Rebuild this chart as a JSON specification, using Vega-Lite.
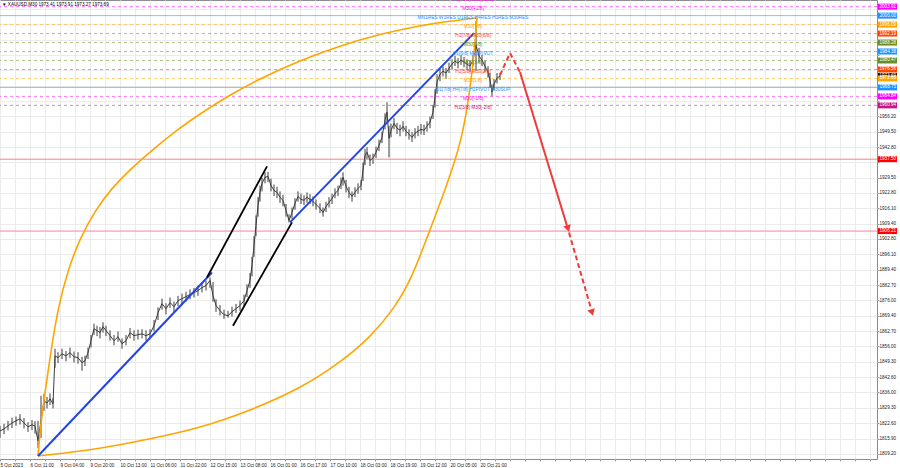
{
  "$schema": "https://vega.github.io/schema/vega-lite/v6.json",
  "width": 877,
  "height": 459,
  "autosize": {"type": "none"},
  "padding": {"left": 0, "top": 0, "right": 23, "bottom": 9},
  "background": "white",
  "config": {
    "font": "Liberation Sans",
    "view": {"stroke": "#8c8c8c"},
    "axis": {"titleFontSize": 0}
  },
  "datasets": {
    "px": [
      {"i":0,"c":1819.2,"h":1821.4,"l":1816.2},{"i":4,"c":1820.1,"h":1822.3,"l":1817.8},{"i":8,"c":1821.4,"h":1823.6,"l":1819.5},{"i":12,"c":1822.7,"h":1825.0,"l":1820.5},{"i":16,"c":1823.6,"h":1825.5,"l":1821.5},{"i":20,"c":1824.5,"h":1826.5,"l":1822.0},{"i":24,"c":1822.7,"h":1824.8,"l":1820.3},{"i":28,"c":1821.0,"h":1823.0,"l":1818.8},{"i":32,"c":1821.9,"h":1824.0,"l":1819.6},{"i":35,"c":1821.4,"h":1823.5,"l":1818.0},
      {"i":38,"c":1814.9,"h":1823.6,"l":1811.8},{"i":41,"c":1823.6,"h":1834.5,"l":1816.2},{"i":44,"c":1832.3,"h":1835.4,"l":1828.0},{"i":47,"c":1831.4,"h":1834.0,"l":1829.0},{"i":50,"c":1833.2,"h":1835.5,"l":1830.5},{"i":53,"c":1831.0,"h":1833.5,"l":1829.0},
      {"i":55,"c":1851.9,"h":1855.0,"l":1846.7},{"i":58,"c":1851.1,"h":1853.5,"l":1848.8},{"i":62,"c":1852.8,"h":1855.0,"l":1850.5},{"i":66,"c":1851.9,"h":1854.0,"l":1849.5},{"i":70,"c":1853.3,"h":1855.5,"l":1851.0},{"i":74,"c":1851.5,"h":1853.8,"l":1849.0},{"i":78,"c":1851.1,"h":1853.5,"l":1848.5},{"i":82,"c":1848.9,"h":1851.5,"l":1845.4},{"i":85,"c":1849.8,"h":1852.0,"l":1847.5},{"i":88,"c":1853.3,"h":1855.5,"l":1850.5},
      {"i":91,"c":1858.5,"h":1861.0,"l":1855.5},{"i":94,"c":1863.7,"h":1865.9,"l":1861.0},{"i":97,"c":1862.9,"h":1865.0,"l":1860.5},{"i":100,"c":1862.0,"h":1864.5,"l":1859.5},{"i":103,"c":1864.6,"h":1866.5,"l":1862.0},{"i":106,"c":1862.9,"h":1865.0,"l":1860.5},{"i":110,"c":1860.7,"h":1863.0,"l":1858.5},{"i":114,"c":1858.5,"h":1861.0,"l":1856.5},{"i":118,"c":1860.2,"h":1862.5,"l":1858.0},{"i":122,"c":1857.2,"h":1859.5,"l":1855.0},
      {"i":126,"c":1858.5,"h":1861.0,"l":1856.5},{"i":130,"c":1862.0,"h":1864.0,"l":1859.5},{"i":134,"c":1860.7,"h":1863.0,"l":1858.5},{"i":138,"c":1861.1,"h":1863.3,"l":1859.0},{"i":142,"c":1861.5,"h":1863.5,"l":1859.5},{"i":146,"c":1860.7,"h":1863.0,"l":1858.5},{"i":150,"c":1861.5,"h":1863.5,"l":1859.5},{"i":154,"c":1865.0,"h":1867.5,"l":1862.5},{"i":158,"c":1870.7,"h":1873.0,"l":1867.5},{"i":162,"c":1874.6,"h":1876.8,"l":1872.0},
      {"i":166,"c":1872.4,"h":1874.8,"l":1870.0},{"i":170,"c":1875.1,"h":1877.3,"l":1872.8},{"i":174,"c":1873.3,"h":1875.5,"l":1871.0},{"i":178,"c":1875.9,"h":1878.0,"l":1873.5},{"i":182,"c":1876.8,"h":1879.0,"l":1874.5},{"i":186,"c":1877.7,"h":1879.8,"l":1875.5},{"i":190,"c":1878.6,"h":1880.8,"l":1876.5},{"i":194,"c":1879.4,"h":1881.5,"l":1877.3},{"i":198,"c":1880.3,"h":1882.5,"l":1878.0},{"i":202,"c":1881.6,"h":1883.8,"l":1879.5},
      {"i":206,"c":1882.5,"h":1884.7,"l":1880.3},{"i":210,"c":1884.7,"h":1886.0,"l":1881.5},{"i":213,"c":1878.1,"h":1884.0,"l":1875.5},{"i":216,"c":1873.8,"h":1876.5,"l":1871.0},{"i":220,"c":1871.6,"h":1874.0,"l":1869.5},{"i":224,"c":1869.8,"h":1872.0,"l":1868.0},{"i":228,"c":1869.4,"h":1871.5,"l":1868.5},{"i":232,"c":1871.1,"h":1873.3,"l":1869.0},{"i":236,"c":1872.4,"h":1874.5,"l":1870.5},{"i":240,"c":1873.8,"h":1876.0,"l":1871.5},
      {"i":244,"c":1875.9,"h":1878.5,"l":1873.5},{"i":247,"c":1880.3,"h":1883.0,"l":1877.5},{"i":250,"c":1884.7,"h":1888.0,"l":1881.5},{"i":252,"c":1891.2,"h":1895.0,"l":1886.5},{"i":254,"c":1899.9,"h":1904.0,"l":1895.0},{"i":256,"c":1908.7,"h":1913.0,"l":1904.0},{"i":258,"c":1917.4,"h":1921.0,"l":1912.5},{"i":260,"c":1923.1,"h":1926.0,"l":1919.0},{"i":262,"c":1927.0,"h":1929.5,"l":1923.5},{"i":265,"c":1929.6,"h":1931.8,"l":1927.0},
      {"i":268,"c":1930.0,"h":1932.0,"l":1927.5},{"i":271,"c":1926.1,"h":1929.0,"l":1923.5},{"i":274,"c":1923.9,"h":1926.5,"l":1921.5},{"i":277,"c":1923.1,"h":1925.5,"l":1920.5},{"i":280,"c":1920.9,"h":1923.5,"l":1918.5},{"i":283,"c":1919.6,"h":1922.0,"l":1917.0},{"i":286,"c":1915.2,"h":1918.0,"l":1912.5},{"i":289,"c":1910.8,"h":1913.5,"l":1910.0},{"i":292,"c":1914.3,"h":1916.5,"l":1911.5},{"i":295,"c":1918.3,"h":1920.5,"l":1915.5},
      {"i":298,"c":1921.3,"h":1923.5,"l":1919.0},{"i":301,"c":1920.0,"h":1922.5,"l":1918.0},{"i":304,"c":1919.6,"h":1921.8,"l":1917.5},{"i":307,"c":1920.9,"h":1923.0,"l":1918.5},{"i":310,"c":1920.0,"h":1922.3,"l":1918.0},{"i":313,"c":1919.1,"h":1921.3,"l":1917.0},{"i":316,"c":1917.8,"h":1920.0,"l":1915.5},{"i":320,"c":1916.1,"h":1918.3,"l":1914.0},{"i":323,"c":1914.3,"h":1916.5,"l":1912.5},{"i":326,"c":1916.9,"h":1919.0,"l":1914.5},
      {"i":329,"c":1918.7,"h":1921.0,"l":1916.5},{"i":332,"c":1920.4,"h":1922.5,"l":1918.0},{"i":335,"c":1922.6,"h":1924.8,"l":1920.5},{"i":338,"c":1923.9,"h":1926.0,"l":1921.5},{"i":341,"c":1927.0,"h":1929.5,"l":1924.5},{"i":343,"c":1929.6,"h":1931.8,"l":1926.0},{"i":346,"c":1925.7,"h":1928.5,"l":1923.0},{"i":349,"c":1923.1,"h":1925.5,"l":1920.5},{"i":352,"c":1921.3,"h":1923.5,"l":1919.0},{"i":355,"c":1923.1,"h":1925.3,"l":1921.0},
      {"i":358,"c":1924.8,"h":1927.0,"l":1922.5},{"i":361,"c":1926.1,"h":1928.3,"l":1924.0},{"i":363,"c":1932.6,"h":1936.0,"l":1928.0},{"i":365,"c":1939.2,"h":1942.0,"l":1935.0},{"i":367,"c":1940.5,"h":1942.7,"l":1937.5},{"i":370,"c":1937.0,"h":1939.5,"l":1934.5},{"i":373,"c":1937.9,"h":1940.0,"l":1935.5},{"i":376,"c":1940.5,"h":1943.0,"l":1938.0},{"i":379,"c":1943.5,"h":1946.0,"l":1941.0},{"i":382,"c":1947.0,"h":1949.5,"l":1944.5},
      {"i":385,"c":1954.5,"h":1957.5,"l":1950.5},{"i":387,"c":1958.0,"h":1962.3,"l":1953.5},{"i":389,"c":1946.6,"h":1952.0,"l":1938.3},{"i":391,"c":1950.1,"h":1953.0,"l":1947.0},{"i":394,"c":1953.1,"h":1955.5,"l":1950.5},{"i":397,"c":1951.0,"h":1953.3,"l":1948.5},{"i":400,"c":1950.1,"h":1952.5,"l":1947.5},{"i":403,"c":1951.8,"h":1954.0,"l":1949.5},{"i":406,"c":1949.7,"h":1952.0,"l":1947.5},{"i":409,"c":1948.4,"h":1950.5,"l":1946.0},
      {"i":412,"c":1947.0,"h":1949.3,"l":1945.0},{"i":415,"c":1948.8,"h":1951.0,"l":1946.5},{"i":418,"c":1949.7,"h":1952.0,"l":1947.5},{"i":421,"c":1950.5,"h":1952.8,"l":1948.3},{"i":424,"c":1950.1,"h":1952.5,"l":1948.0},{"i":427,"c":1951.8,"h":1954.0,"l":1949.5},{"i":430,"c":1953.6,"h":1956.0,"l":1951.0},{"i":433,"c":1958.0,"h":1961.0,"l":1955.0},{"i":435,"c":1964.5,"h":1968.0,"l":1960.0},{"i":437,"c":1971.0,"h":1974.5,"l":1966.0},
      {"i":440,"c":1974.5,"h":1977.0,"l":1971.5},{"i":443,"c":1975.8,"h":1978.0,"l":1973.5},{"i":446,"c":1975.0,"h":1977.3,"l":1972.5},{"i":449,"c":1977.1,"h":1979.5,"l":1975.0},{"i":452,"c":1978.9,"h":1981.0,"l":1976.5},{"i":455,"c":1980.2,"h":1982.5,"l":1978.0},{"i":458,"c":1979.3,"h":1981.5,"l":1977.0},{"i":461,"c":1980.6,"h":1982.8,"l":1978.5},{"i":464,"c":1979.8,"h":1982.0,"l":1977.5},{"i":467,"c":1978.9,"h":1981.0,"l":1976.5},
      {"i":470,"c":1978.0,"h":1980.5,"l":1975.5},{"i":473,"c":1980.6,"h":1983.0,"l":1978.0},{"i":476,"c":1987.2,"h":1997.5,"l":1976.0},{"i":479,"c":1982.4,"h":1986.0,"l":1979.5},{"i":482,"c":1980.6,"h":1983.0,"l":1978.0},{"i":485,"c":1978.0,"h":1980.5,"l":1975.5},{"i":488,"c":1975.4,"h":1978.0,"l":1973.0},{"i":490,"c":1971.9,"h":1975.0,"l":1968.5},{"i":492,"c":1966.7,"h":1970.0,"l":1964.9},{"i":494,"c":1970.2,"h":1972.5,"l":1967.5},
      {"i":497,"c":1972.8,"h":1975.0,"l":1970.5},{"i":500,"c":1973.7,"h":1975.0,"l":1972.0}
    ],
    "lv": [
      {"p":2003.91,"m":"+1/8","k":"mm"},{"p":2000.00,"m":"8/8","k":"res"},{"p":1996.09,"m":"7/8","k":"mm"},{"p":1992.19,"m":"6/8","k":"mm"},{"p":1988.28,"m":"5/8","k":"mm"},{"p":1984.38,"m":"4/8","k":"mm"},{"p":1980.47,"m":"3/8","k":"mm"},{"p":1976.56,"m":"2/8","k":"mm"},{"p":1972.66,"m":"1/8","k":"mm"},{"p":1968.75,"m":"0/8","k":"res"},{"p":1964.84,"m":"-1/8","k":"mm"},{"p":1960.94,"m":"-2/8","k":"mm"}
    ],
    "sr": [{"p":1937.50,"n":"R"},{"p":1906.21,"n":"S"}],
    "arc": [
      {"x":38,"y":1808.3,"a":"upper"},{"x":41,"y":1823.6,"a":"upper"},{"x":46,"y":1838.9,"a":"upper"},{"x":52,"y":1857.0,"a":"upper"},{"x":58,"y":1872.5,"a":"upper"},{"x":68,"y":1889.5,"a":"upper"},{"x":80,"y":1903.0,"a":"upper"},{"x":95,"y":1915.2,"a":"upper"},{"x":112,"y":1925.0,"a":"upper"},{"x":130,"y":1933.0,"a":"upper"},{"x":152,"y":1941.4,"a":"upper"},{"x":175,"y":1949.6,"a":"upper"},{"x":200,"y":1957.3,"a":"upper"},{"x":230,"y":1965.5,"a":"upper"},{"x":260,"y":1972.6,"a":"upper"},{"x":300,"y":1980.5,"a":"upper"},{"x":340,"y":1986.9,"a":"upper"},{"x":380,"y":1992.0,"a":"upper"},{"x":420,"y":1995.7,"a":"upper"},{"x":450,"y":1997.6,"a":"upper"},{"x":477,"y":1999.0,"a":"upper"},
      {"x":38,"y":1808.3,"a":"lower"},{"x":100,"y":1811.4,"a":"lower"},{"x":150,"y":1815.7,"a":"lower"},{"x":200,"y":1820.5,"a":"lower"},{"x":250,"y":1828.0,"a":"lower"},{"x":300,"y":1837.6,"a":"lower"},{"x":340,"y":1848.9,"a":"lower"},{"x":370,"y":1859.8,"a":"lower"},{"x":395,"y":1872.9,"a":"lower"},{"x":412,"y":1886.0,"a":"lower"},{"x":427,"y":1903.4,"a":"lower"},{"x":445,"y":1923.9,"a":"lower"},{"x":462,"y":1945.7,"a":"lower"},{"x":470,"y":1967.5,"a":"lower"},{"x":475,"y":1987.2,"a":"lower"},{"x":477,"y":1999.0,"a":"lower"}
    ],
    "tr": [
      {"x":38,"y":1808.3,"x2":212,"y2":1888.2,"k":"up"},
      {"x":290,"y":1910.0,"x2":474,"y2":1992.4,"k":"up"},
      {"x":207,"y":1886.0,"x2":267,"y2":1934.4,"k":"ch"},
      {"x":233,"y":1865.0,"x2":292,"y2":1910.0,"k":"ch"}
    ],
    "ar": [
      {"x":500,"y":1974.1,"x2":510,"y2":1983.7,"s":"dash"},
      {"x":510,"y":1983.7,"x2":520,"y2":1975.4,"s":"dash"},
      {"x":520,"y":1975.4,"x2":567,"y2":1908.5,"s":"solid"},
      {"x":569,"y":1905.6,"x2":591,"y2":1872.5,"s":"dash"}
    ],
    "ah": [{"x":568,"y":1907.3},{"x":592,"y":1870.7}],
    "ml": [
      {"p":2007.81,"m":"+2/8","t":"H1[+1/8] M30[+2/8]"},
      {"p":2003.91,"m":"+1/8","t":"M30[+1/8]"},
      {"p":2000.00,"m":"8/8","t":"MN1RES W1RES D1RES H4RES H1RES M30RES"},
      {"p":1996.09,"m":"7/8","t":"M30[7/8]"},
      {"p":1992.19,"m":"6/8","t":"H1[7/8] M30[6/8]"},
      {"p":1988.28,"m":"5/8","t":"M30[5/8]"},
      {"p":1984.38,"m":"4/8","t":"H1[6/8] M30PIVOT"},
      {"p":1980.47,"m":"3/8","t":"M30[3/8]"},
      {"p":1976.56,"m":"2/8","t":"H1[5/8] M30[2/8]"},
      {"p":1972.66,"m":"1/8","t":"M30[1/8]"},
      {"p":1968.75,"m":"0/8","t":"D1[7/8] H4[7/8] H1PIVOT M30SUP"},
      {"p":1964.84,"m":"-1/8","t":"M30[-1/8]"},
      {"p":1960.94,"m":"-2/8","t":"H1[3/8] M30[-2/8]"}
    ],
    "rb": [
      {"p":2003.91,"m":"+1/8"},{"p":2000.00,"m":"8/8"},{"p":1996.09,"m":"7/8"},{"p":1992.19,"m":"6/8"},{"p":1988.28,"m":"5/8"},{"p":1984.38,"m":"4/8"},{"p":1980.47,"m":"3/8"},{"p":1976.56,"m":"2/8"},{"p":1973.69,"m":"px"},{"p":1972.66,"m":"1/8"},{"p":1968.75,"m":"0/8"},{"p":1964.84,"m":"-1/8"},{"p":1960.94,"m":"-2/8"},{"p":1937.50,"m":"R"},{"p":1906.21,"m":"S"}
    ]
  },
  "layer": [
    {
      "data": {"name": "px"},
      "mark": {"type": "rule", "color": "#3c3c3c", "strokeWidth": 1},
      "encoding": {
        "x": {"field": "i", "type": "quantitative", "title": null,
          "scale": {"domain": [0, 877], "nice": false, "zero": false},
          "axis": {
            "values": [0,15,30,45,60,75,90,105,120,135,150,165,180,195,210,225,240,255,270,285,300,315,330,345,360,375,390,405,420,435,450,465,480,495,510,525,540,555,570,585,600,615,630,645,660,675,690,705,720,735,750,765,780,795,810,825,840,855,870],
            "tickCount": 200,
            "labelExpr": "datum.value % 30 == 0 && datum.value <= 480 ? ['5 Oct 2023','6 Oct 11:00','9 Oct 04:00','9 Oct 20:00','10 Oct 13:00','11 Oct 06:00','11 Oct 22:00','12 Oct 15:00','13 Oct 08:00','16 Oct 01:00','16 Oct 17:00','17 Oct 10:00','18 Oct 03:00','18 Oct 19:00','19 Oct 12:00','20 Oct 05:00','20 Oct 21:00'][datum.value / 30] : ''",
            "labelAlign": "left", "labelFontSize": 4.6, "labelPadding": 1, "labelColor": "#222",
            "labelOverlap": false, "labelFlush": false, "tickSize": 2, "tickColor": "#999",
            "domain": false, "grid": true, "gridColor": "#ebebeb", "title": null
          }
        },
        "y": {"field": "l", "type": "quantitative", "title": null,
          "scale": {"domain": [1807.0, 2006.8], "nice": false, "zero": false},
          "axis": {
            "orient": "right",
            "values": [1809.2,1815.9,1822.6,1829.3,1836.0,1842.6,1849.3,1856.0,1862.7,1869.4,1876.0,1882.7,1889.4,1896.1,1902.8,1909.4,1916.1,1922.8,1929.5,1936.1,1942.8,1949.5,1956.2,1962.9,1969.5,1976.2,1982.9,1989.6,1996.2,2002.9],
            "tickCount": 200,
            "labelExpr": "datum.value > 1957 || (datum.value > 1935 && datum.value < 1937) ? '' : format(datum.value, '.2f')",
            "labelAlign": "left", "labelBaseline": "middle", "labelFontSize": 4.6, "labelPadding": 0,
            "labelColor": "#222", "labelOverlap": false, "labelFlush": false, "tickSize": 2, "tickColor": "#999",
            "domain": false, "grid": true, "gridColor": "#ebebeb", "title": null
          }
        },
        "y2": {"field": "h"}
      }
    },
    {
      "data": {"name": "lv"},
      "mark": {"type": "rule", "strokeWidth": 1, "opacity": 0.55},
      "encoding": {
        "y": {"field": "p", "type": "quantitative", "title": null},
        "color": {"field": "m", "type": "nominal", "legend": null,
          "scale": {"domain": ["+2/8","+1/8","8/8","7/8","6/8","5/8","4/8","3/8","2/8","1/8","0/8","-1/8","-2/8","R","S","px"],
                    "range": ["#FF00FF","#FF00FF","#1E90FF","#FFA500","#FF4500","#6B8E23","#1E90FF","#6B8E23","#FF4500","#FFA500","#1E90FF","#FF00FF","#C71585","#FF0000","#FF0000","#000000"]}},
        "strokeDash": {"field": "k", "type": "nominal", "legend": null,
          "scale": {"domain": ["res","mm","solid","dash"], "range": [[1,0],[3,3],[1,0],[5,3]]}}
      }
    },
    {
      "data": {"name": "sr"},
      "transform": [{"filter": "datum.n == 'R'"}],
      "mark": {"type": "rule", "color": "#FF8080", "strokeWidth": 1},
      "encoding": {"y": {"field": "p", "type": "quantitative", "title": null}}
    },
    {
      "data": {"name": "sr"},
      "transform": [{"filter": "datum.n == 'S'"}],
      "mark": {"type": "rule", "color": "#FF7FA8", "strokeWidth": 1},
      "encoding": {"y": {"field": "p", "type": "quantitative", "title": null}}
    },
    {
      "data": {"name": "px"},
      "mark": {"type": "line", "color": "#3c3c3c", "strokeWidth": 1},
      "encoding": {
        "x": {"field": "i", "type": "quantitative", "title": null},
        "y": {"field": "c", "type": "quantitative", "title": null}
      }
    },
    {
      "data": {"name": "arc"},
      "mark": {"type": "line", "color": "#FFA500", "strokeWidth": 1.6, "interpolate": "basis"},
      "encoding": {
        "x": {"field": "x", "type": "quantitative", "title": null},
        "y": {"field": "y", "type": "quantitative", "title": null},
        "detail": {"field": "a"}
      }
    },
    {
      "data": {"name": "tr"},
      "transform": [{"filter": "datum.k == 'up'"}],
      "mark": {"type": "rule", "color": "#2344E6", "strokeWidth": 2},
      "encoding": {
        "x": {"field": "x", "type": "quantitative", "title": null},
        "y": {"field": "y", "type": "quantitative", "title": null},
        "x2": {"field": "x2"}, "y2": {"field": "y2"}
      }
    },
    {
      "data": {"name": "tr"},
      "transform": [{"filter": "datum.k == 'ch'"}],
      "mark": {"type": "rule", "color": "#000000", "strokeWidth": 1.8},
      "encoding": {
        "x": {"field": "x", "type": "quantitative", "title": null},
        "y": {"field": "y", "type": "quantitative", "title": null},
        "x2": {"field": "x2"}, "y2": {"field": "y2"}
      }
    },
    {
      "data": {"name": "ar"},
      "mark": {"type": "rule", "color": "#EE3B3B", "strokeWidth": 2},
      "encoding": {
        "x": {"field": "x", "type": "quantitative", "title": null},
        "y": {"field": "y", "type": "quantitative", "title": null},
        "x2": {"field": "x2"}, "y2": {"field": "y2"},
        "strokeDash": {"field": "s", "type": "nominal", "legend": null,
          "scale": {"domain": ["res","mm","solid","dash"], "range": [[1,0],[3,3],[1,0],[5,3]]}}
      }
    },
    {
      "data": {"name": "ah"},
      "mark": {"type": "point", "shape": "triangle-down", "filled": true, "color": "#EE3B3B", "opacity": 1, "size": 60, "angle": 343},
      "encoding": {
        "x": {"field": "x", "type": "quantitative", "title": null},
        "y": {"field": "y", "type": "quantitative", "title": null}
      }
    },
    {
      "data": {"name": "ml"},
      "mark": {"type": "text", "fontSize": 4.8, "align": "center", "baseline": "middle", "dy": 2.5},
      "encoding": {
        "x": {"datum": 473, "type": "quantitative"},
        "y": {"field": "p", "type": "quantitative", "title": null},
        "text": {"field": "t"},
        "color": {"field": "m", "type": "nominal", "legend": null,
          "scale": {"domain": ["+2/8","+1/8","8/8","7/8","6/8","5/8","4/8","3/8","2/8","1/8","0/8","-1/8","-2/8","R","S","px"],
                    "range": ["#FF00FF","#FF00FF","#1E90FF","#FFA500","#FF4500","#6B8E23","#1E90FF","#6B8E23","#FF4500","#FFA500","#1E90FF","#FF00FF","#C71585","#FF0000","#FF0000","#000000"]}}
      }
    },
    {
      "data": {"name": "rb"},
      "mark": {"type": "rule", "strokeWidth": 6, "strokeCap": "butt"},
      "encoding": {
        "x": {"datum": 878, "type": "quantitative"},
        "x2": {"datum": 897},
        "y": {"field": "p", "type": "quantitative", "title": null},
        "color": {"field": "m", "type": "nominal", "legend": null,
          "scale": {"domain": ["+2/8","+1/8","8/8","7/8","6/8","5/8","4/8","3/8","2/8","1/8","0/8","-1/8","-2/8","R","S","px"],
                    "range": ["#FF00FF","#FF00FF","#1E90FF","#FFA500","#FF4500","#6B8E23","#1E90FF","#6B8E23","#FF4500","#FFA500","#1E90FF","#FF00FF","#C71585","#FF0000","#FF0000","#000000"]}}
      }
    },
    {
      "data": {"name": "rb"},
      "mark": {"type": "text", "fontSize": 4.6, "align": "left", "baseline": "middle", "color": "white", "dx": 1.5},
      "encoding": {
        "x": {"datum": 878, "type": "quantitative"},
        "y": {"field": "p", "type": "quantitative", "title": null},
        "text": {"field": "p", "type": "quantitative", "format": ".2f"}
      }
    },
    {
      "data": {"values": [{"t": "\u25bc XAUUSD,M30  1973.41 1973.91 1973.27 1973.69"}]},
      "mark": {"type": "text", "fontSize": 4.6, "align": "left", "baseline": "middle", "color": "#000"},
      "encoding": {
        "x": {"datum": 2, "type": "quantitative"},
        "y": {"datum": 2004.8, "type": "quantitative"},
        "text": {"field": "t"}
      }
    }
  ]
}
